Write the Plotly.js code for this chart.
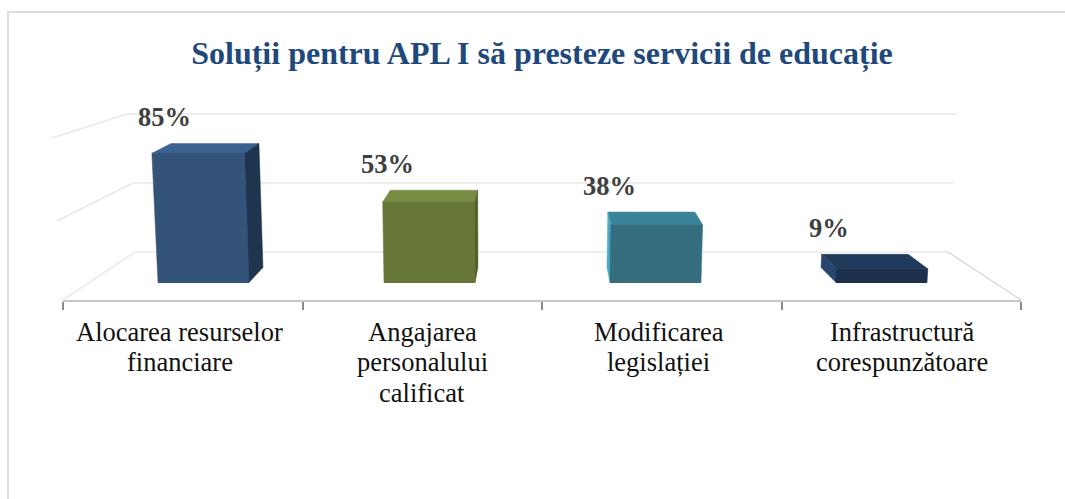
<!DOCTYPE html>
<html><head><meta charset="utf-8">
<script src="https://cdn.plot.ly/plotly-3.0.1.min.js"></script>
<style>html,body{margin:0;padding:0;background:#fff;overflow:hidden}#frame{position:absolute;left:7px;top:11px;width:1070px;height:500px;border:2px solid #dcdcdc;box-sizing:border-box}#chart{position:absolute;left:0;top:0;width:1065px;height:499px}</style>
</head><body><div id="frame"></div><div id="chart"></div>
<script>
const categories = ["Alocarea resurselor<br>financiare","Angajarea<br>personalului<br>calificat","Modificarea<br>legislației","Infrastructură<br>corespunzătoare"];
const values = [85,53,38,9];
const wallTicks = [0,50,100];
const frontColors = ["#335379","#657637","#336d7e","#1c2f4b"];
const topColors = ["#3b628f","#778d43","#3a8499","#203a5c"];
const sideColors = ["#1f344f","#4f5f2b","#4ba9c4","#27456f"];

// Projection settings (pixels of the plot area) - geometry only, no data
const PA=40, PL=63, PR=1021, PT=90, PB=300, BASE=282.5, PXV=1.52, WALLV=1.38, WALLBASE=252;
const barLeft=[158,384,610,836], BW=91, XV=500, SHEAR=0.00021;
const backOffset=[18.5,7.5,-3,-15];
const valY = py => (BASE-py)/PXV;
function front(i,u,v){const x=barLeft[i]+u*BW;return [x+SHEAR*(x-XV)*v, BASE-PXV*v];}
function back(i,u,v){
  const bx=barLeft[i]+u*BW*0.95+backOffset[i];
  const by=267.5-PXV*0.96*v;
  return [bx+SHEAR*(bx-XV)*v*0.95, by];
}
function poly(pts,color,lc){
  return {type:"scatter",mode:"lines",xaxis:"x2",yaxis:"y",fill:"toself",fillcolor:color,
    x:pts.concat([pts[0]]).map(p=>p[0]),y:pts.concat([pts[0]]).map(p=>valY(p[1])),
    line:{color:lc||color,width:0.5},hoverinfo:"skip",showlegend:false};
}
function seg(a,b){
  return {type:"scatter",mode:"lines",xaxis:"x2",yaxis:"y",x:[a[0],b[0]],y:[valY(a[1]),valY(b[1])],
    line:{color:"#e8e8e8",width:1.5},hoverinfo:"skip",showlegend:false};
}
const traces=[];
// real bars: front face base rectangle
traces.push({type:"bar",x:categories,y:values,xaxis:"x",yaxis:"y",
  width:values.map(()=>BW/((PR-PL)/4)),
  offset:barLeft.map((b,i)=>(b-(PL+(i+0.5)*(PR-PL)/4))/((PR-PL)/4)),
  marker:{color:frontColors,line:{width:0}},hoverinfo:"x+y",showlegend:false});
// walls
wallTicks.forEach((t,k)=>{
  const y=WALLBASE-WALLV*t, x0=[135,133,127][k], x1=[948,953,956][k];
  traces.push(seg([x0,y],[x1,y]));
  traces.push(seg([x0,y],[[63,57,52][k],[300,221,138][k]]));
});
traces.push(Object.assign(seg([948,252],[1021,300]),{line:{color:"#c4c4c4",width:1}}));
values.forEach((v,i)=>{
  const fl=front(i,0,v),fr=front(i,1,v),bl=back(i,0,v),br=back(i,1,v);
  const fl0=front(i,0,0),fr0=front(i,1,0),bl0=back(i,0,0),br0=back(i,1,0);
  traces.push(poly([bl,br,fr,fl],topColors[i]));
  if(i<2) traces.push(poly([fr,br,br0,fr0],sideColors[i]));
  else traces.push(poly([fl,bl,bl0,fl0],sideColors[i]));
  traces.push(poly([fl,fr,fr0,fl0],frontColors[i]));
});
const labelShift=[-7,-3,2,7];
const annotations=values.map((v,i)=>{
  const b=back(i,0,v);
  return {xref:"x2",yref:"y",x:b[0]+labelShift[i],y:valY(b[1]-26),text:"<b>"+v+"%</b>",showarrow:false,
    xanchor:"center",yanchor:"middle",font:{family:"Liberation Serif",size:26.5,color:"#404040"}};
});
// category labels: line pitch of the reference is tighter than Plotly's tick label line height
const labelCentres=[179.5,422,658.5,901.5], LINE0=331.5, PITCH=30.5;
categories.forEach((c,i)=>c.split("<br>").forEach((line,k)=>{
  annotations.push({xref:"x2",yref:"paper",x:labelCentres[i],y:1-(LINE0+k*PITCH-PT)/(PB-PT),text:line,showarrow:false,
    xanchor:"center",yanchor:"middle",font:{family:"Liberation Serif",size:26.5,color:"#111111"}});
}));
const layout={
  width:1065,height:499,paper_bgcolor:"rgba(0,0,0,0)",plot_bgcolor:"rgba(0,0,0,0)",
  margin:{l:PA,r:1065-PR,t:PT,b:499-PB,pad:0},showlegend:false,bargap:0,
  title:{text:"<b>Soluții pentru APL I să presteze servicii de educație</b>",x:542/1065,xanchor:"center",y:1-53/499,yanchor:"middle",
    font:{family:"Liberation Serif",size:32,color:"#1f497d"}},
  xaxis:{type:"category",domain:[(PL-PA)/(PR-PA),1],categories:categories,categoryorder:"array",categoryarray:categories,range:[-0.5,3.5],
    tickson:"boundaries",ticks:"outside",ticklen:8,tickwidth:2,tickcolor:"#8c8c8c",showline:true,linecolor:"#c8c8c8",linewidth:2,
    showgrid:false,zeroline:false,showticklabels:false,automargin:false,anchor:"y"},
  xaxis2:{domain:[0,1],range:[PA,PR],visible:false,fixedrange:true,anchor:"y"},
  yaxis:{range:[valY(PB),valY(PT)],visible:false,fixedrange:true,zeroline:false,showgrid:false},
  annotations:annotations
};
Plotly.newPlot("chart",traces,layout,{displayModeBar:false,staticPlot:true});
</script></body></html>
